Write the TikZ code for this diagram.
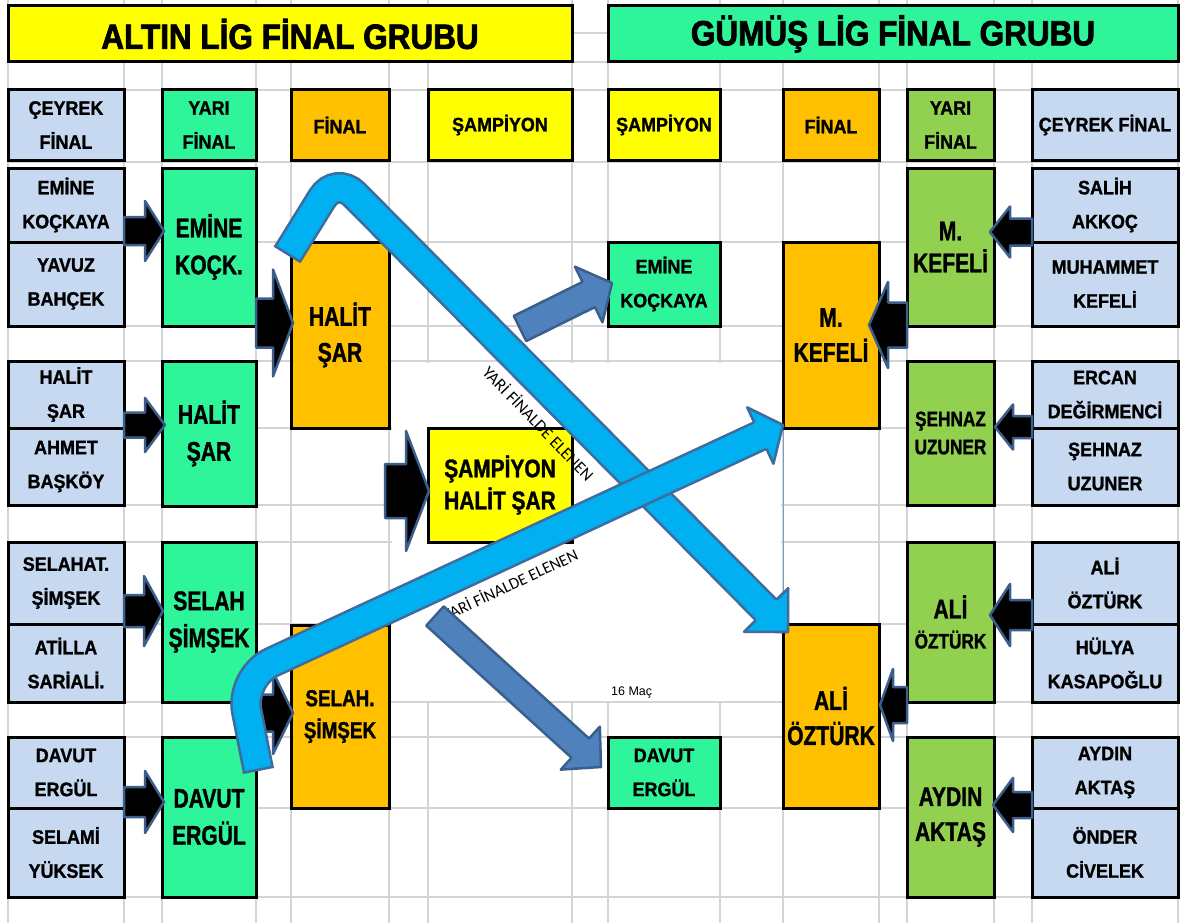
\documentclass[tikz,border=0pt]{standalone}
\usepackage{fontspec}
\setmainfont{Liberation Sans}
\newfontfamily\fSm{Liberation Sans}[FakeStretch=0.92,FakeBold=1.2]
\newfontfamily\fBg{Liberation Sans}[FakeStretch=0.78,FakeBold=1.2]
\newfontfamily\fMd{Liberation Sans}[FakeStretch=0.82,FakeBold=1.2]
\newfontfamily\fTt{Liberation Sans}[FakeStretch=0.9,FakeBold=2.2]
\newfontfamily\fCal{Carlito}
\newfontfamily\fAr{Liberation Sans}
\usetikzlibrary{calc}
\definecolor{cyel}{HTML}{FFFF00}
\definecolor{cgrn}{HTML}{2EF59A}
\definecolor{corg}{HTML}{FFC000}
\definecolor{clbl}{HTML}{C6D9F1}
\definecolor{clgr}{HTML}{92D050}
\definecolor{gridc}{HTML}{D4D4D4}
\definecolor{lbF}{HTML}{00B0F0}
\definecolor{lbB}{HTML}{3F6B9E}
\definecolor{dbF}{HTML}{4F81BD}
\definecolor{dbB}{HTML}{3A5F8C}
\definecolor{blkB}{HTML}{3B5E8C}
\definecolor{thinb}{HTML}{7F9CC8}
\tikzset{
  box/.style={draw=black, line width=3pt, inner sep=0pt, align=center},
  fsmall/.style={font=\fSm\bfseries\fontsize{19.5}{34}\selectfont},
  fbig/.style={font=\fBg\bfseries\fontsize{27}{#1}\selectfont},
  fmid/.style args={#1/#2}{font=\fMd\bfseries\fontsize{#1}{#2}\selectfont},
  ftit/.style={font=\fTt\bfseries\fontsize{35}{40}\selectfont},
  gridl/.style={draw=gridc, line width=2pt},
  blk/.style={fill=black, draw=blkB, line width=2.5pt, line join=round},
  dblue/.style={fill=dbF, draw=dbB, line width=2.5pt, line join=round},
}
\newcommand\cell[7]{\node[box,#7,fill=#2,minimum width={(#5)-(#3)},minimum height={(#6)-(#4)}] (#1) at ({((#3)+(#5))/2},{((#4)+(#6))/2})}
\newcommand\barrow[6]{%
  \path ($(#3)!#6pt!(#2)$) coordinate (bC);
  \draw[#1] ($(#2)!#4pt!90:(#3)$) -- ($(bC)!#4pt!-90:(#2)$) -- ($(bC)!#5pt!-90:(#2)$) -- (#3) -- ($(bC)!#5pt!90:(#2)$) -- ($(bC)!#4pt!90:(#2)$) -- ($(#2)!#4pt!-90:(#3)$) -- cycle;}
\newcommand\bentarrow[7]{%
  \path ($(#3)!#6pt!(#2)$) coordinate (kC);
  \draw[draw=lbB, line width={2*#4+2.6}, rounded corners=#7] (#1) -- (#2) -- (kC);
  \draw[draw=lbF, line width={2*#4-2.6}, rounded corners=#7, shorten <=2.6pt] (#1) -- (#2) -- (kC);
  \fill[lbF] ($(kC)!#4pt!-90:(#2)$) -- ($(kC)!#5pt!-90:(#2)$) -- (#3) -- ($(kC)!#5pt!90:(#2)$) -- ($(kC)!#4pt!90:(#2)$) -- cycle;
  \draw[draw=lbB, line width=2.6pt, line join=round] ($(kC)!#4pt!-90:(#2)$) -- ($(kC)!#5pt!-90:(#2)$) -- (#3) -- ($(kC)!#5pt!90:(#2)$) -- ($(kC)!#4pt!90:(#2)$);}
\begin{document}
\begin{tikzpicture}[x=1pt,y=-1pt]
\useasboundingbox (0,0) rectangle (1180,923);
\fill[white] (0,0) rectangle (1180,923);
% spreadsheet grid
\foreach \x in {8,124,162,256,291,389,428,572,608,720,783,879,907,994,1032,1178}
  \draw[gridl] (\x,0) -- (\x,923);
\foreach \y in {33,62,90,162,242,326,361,428,505,542,624,702,737,808,897}
  \draw[gridl] (8,\y) -- (1180,\y);
\fill[white] (392,363) rectangle (781,701);
\draw[thinb, line width=1pt] (783,428) -- (783,624);
% titles
\cell{tA}{cyel}{8}{6}{572}{62}{ftit}{ALTIN LİG FİNAL GRUBU};
\cell{tG}{cgrn}{608}{6}{1178}{62}{ftit}{GÜMÜŞ LİG FİNAL GRUBU};
% headers
\cell{h1}{clbl}{8}{90}{124}{160}{fsmall}{ÇEYREK\\FİNAL};
\cell{h2}{cgrn}{162}{90}{256}{160}{fsmall}{YARI\\FİNAL};
\cell{h3}{corg}{291}{90}{389}{160}{fsmall}{FİNAL};
\cell{h4}{cyel}{428}{90}{572}{160}{fsmall}{ŞAMPİYON};
\cell{h5}{cyel}{608}{90}{720}{160}{fsmall}{ŞAMPİYON};
\cell{h6}{corg}{783}{90}{879}{160}{fsmall}{FİNAL};
\cell{h7}{clgr}{907}{90}{994}{160}{fsmall}{YARI\\FİNAL};
\cell{h8}{clbl}{1032}{90}{1178}{160}{fsmall}{ÇEYREK FİNAL};
% left quarter finals
\cell{q1}{clbl}{8}{168}{124}{242}{fsmall}{EMİNE\\KOÇKAYA};
\cell{q2}{clbl}{8}{242}{124}{326}{fsmall}{YAVUZ\\BAHÇEK};
\cell{q3}{clbl}{8}{361}{124}{428}{fsmall}{HALİT\\ŞAR};
\cell{q4}{clbl}{8}{428}{124}{505}{fsmall}{AHMET\\BAŞKÖY};
\cell{q5}{clbl}{8}{542}{124}{624}{fsmall}{SELAHAT.\\ŞİMŞEK};
\cell{q6}{clbl}{8}{624}{124}{702}{fsmall}{ATİLLA\\SARİALİ.};
\cell{q7}{clbl}{8}{737}{124}{808}{fsmall}{DAVUT\\ERGÜL};
\cell{q8}{clbl}{8}{808}{124}{897}{fsmall}{SELAMİ\\YÜKSEK};
% left semi finals
\cell{y1}{cgrn}{162}{168}{256}{326}{fbig=37}{EMİNE\\KOÇK.};
\cell{y2}{cgrn}{162}{361}{256}{506}{fbig=37}{HALİT\\ŞAR};
\cell{y3}{cgrn}{162}{542}{256}{702}{fbig=37}{SELAH\\ŞİMŞEK};
\cell{y4}{cgrn}{162}{737}{256}{897}{fbig=37}{DAVUT\\ERGÜL};
% left finals
\cell{f1}{corg}{291}{242}{389}{428}{fbig=36}{HALİT\\ŞAR};
\cell{f2}{corg}{291}{625}{389}{808}{fmid=23/32}{SELAH.\\ŞİMŞEK};
% champion
\cell{c1}{cyel}{428}{428}{572}{542}{fmid=25.5/32}{ŞAMPİYON\\HALİT ŞAR};
% silver league champion column
\cell{r1}{cgrn}{608}{242}{720}{326}{fsmall}{EMİNE\\KOÇKAYA};
\cell{r2}{cgrn}{608}{737}{720}{808}{fsmall}{DAVUT\\ERGÜL};
% right finals
\cell{rf1}{corg}{783}{242}{879}{428}{fbig=35}{M.\\KEFELİ};
\cell{rf2}{corg}{783}{624}{879}{808}{fbig=35}{ALİ\\ÖZTÜRK};
% right semi finals
\cell{ry1}{clgr}{907}{168}{994}{326}{fbig=32}{M.\\KEFELİ};
\cell{ry2}{clgr}{907}{361}{994}{505}{fmid=21/28}{ŞEHNAZ\\UZUNER};
\cell{ry3}{clgr}{907}{542}{994}{702}{fmid=21/30}{{\fBg\fontsize{27}{30}\selectfont ALİ}\\ÖZTÜRK};
\cell{ry4}{clgr}{907}{737}{994}{897}{fbig=35}{AYDIN\\AKTAŞ};
% right quarter finals
\cell{rq1}{clbl}{1032}{168}{1178}{242}{fsmall}{SALİH\\AKKOÇ};
\cell{rq2}{clbl}{1032}{242}{1178}{326}{fsmall}{MUHAMMET\\KEFELİ};
\cell{rq3}{clbl}{1032}{361}{1178}{428}{fsmall}{ERCAN\\DEĞİRMENCİ};
\cell{rq4}{clbl}{1032}{428}{1178}{505}{fsmall}{ŞEHNAZ\\UZUNER};
\cell{rq5}{clbl}{1032}{542}{1178}{624}{fsmall}{ALİ\\ÖZTÜRK};
\cell{rq6}{clbl}{1032}{624}{1178}{702}{fsmall}{HÜLYA\\KASAPOĞLU};
\cell{rq7}{clbl}{1032}{737}{1178}{808}{fsmall}{AYDIN\\AKTAŞ};
\cell{rq8}{clbl}{1032}{808}{1178}{897}{fsmall}{ÖNDER\\CİVELEK};
% black block arrows, left side
\coordinate (a1t) at (124,231); \coordinate (a1h) at (164,231);
\coordinate (a2t) at (124,425); \coordinate (a2h) at (165,425);
\coordinate (a3t) at (124,611); \coordinate (a3h) at (163,611);
\coordinate (a4t) at (124,802); \coordinate (a4h) at (164,802);
\coordinate (b1t) at (256,323); \coordinate (b1h) at (293,323);
\coordinate (b2t) at (256,713); \coordinate (b2h) at (293,713);
\coordinate (c1t) at (385,491); \coordinate (c1h) at (429,491);
\barrow{blk}{a1t}{a1h}{14}{30}{19}
\barrow{blk}{a2t}{a2h}{12.5}{27}{20}
\barrow{blk}{a3t}{a3h}{16}{35}{19}
\barrow{blk}{a4t}{a4h}{15}{31}{19}
\barrow{blk}{b1t}{b1h}{24.5}{53.5}{20}
\barrow{blk}{b2t}{b2h}{18.5}{41}{20}
\barrow{blk}{c1t}{c1h}{27}{60}{23}
% black block arrows, right side
\coordinate (d1t) at (1032,232); \coordinate (d1h) at (990,232);
\coordinate (d2t) at (1032,427); \coordinate (d2h) at (995,427);
\coordinate (d3t) at (1032,615); \coordinate (d3h) at (990,615);
\coordinate (d4t) at (1032,805); \coordinate (d4h) at (993,805);
\coordinate (e1t) at (907,325); \coordinate (e1h) at (869,325);
\coordinate (e2t) at (907,705); \coordinate (e2h) at (880,705);
\barrow{blk}{d1t}{d1h}{13.5}{25.5}{20}
\barrow{blk}{d2t}{d2h}{11}{22.5}{18}
\barrow{blk}{d3t}{d3h}{15}{31}{20}
\barrow{blk}{d4t}{d4h}{13}{27}{20}
\barrow{blk}{e1t}{e1h}{22.5}{43}{19}
\barrow{blk}{e2t}{e2h}{18}{36}{13}
% light blue bent arrows
\coordinate (g1t) at (287,255); \coordinate (g1k) at (336,176); \coordinate (g1h) at (788,632);
\coordinate (g2t) at (258.5,771); \coordinate (g2k) at (240,677); \coordinate (g2h) at (783,425);
\bentarrow{g1t}{g1k}{g1h}{14.5}{31}{31}{26}
\bentarrow{g2t}{g2k}{g2h}{14.5}{31}{25}{35}
% labels
\node[font=\fCal\fontsize{17}{17}\selectfont, rotate=-46] (lab1) at (539,423) {YARİ FİNALDE ELENEN};
\node[font=\fCal\fontsize{16.5}{16.5}\selectfont, rotate=25] (lab2) at (510,584) {YARİ FİNALDE ELENEN};
% dark blue arrows
\coordinate (u1t) at (520,328.5); \coordinate (u1h) at (612,283);
\coordinate (u2t) at (435,616); \coordinate (u2h) at (601,767);
\barrow{dblue}{u1t}{u1h}{14}{31}{26}
\barrow{dblue}{u2t}{u2h}{13}{29}{28}
\node[font=\fAr\fontsize{12.5}{14}\selectfont, anchor=base west, inner sep=0pt] (m16) at (611,695) {16 Maç};
\end{tikzpicture}
\end{document}
